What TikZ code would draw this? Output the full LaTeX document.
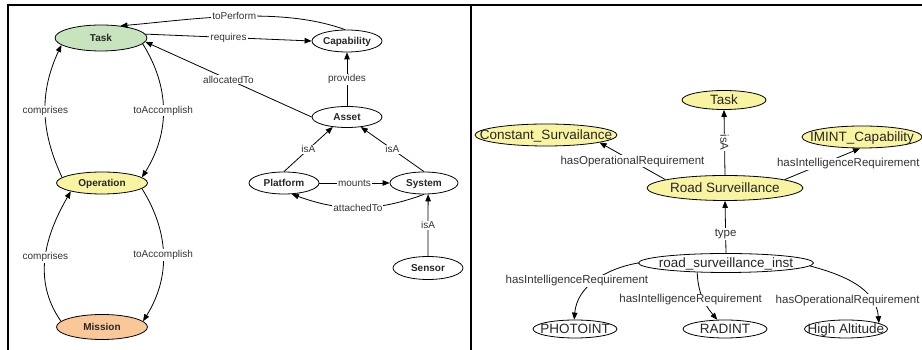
\documentclass[tikz,border=0pt]{standalone}
\usepackage{fontspec}
\setmainfont{Liberation Sans}
\usepackage{mathtools}
\usetikzlibrary{
		positioning,
		arrows.meta,
		shapes.geometric
	}
\definecolor{taskgreen}{HTML}{C8E4BE}
\definecolor{opyellow}{HTML}{F8F4A2}
\definecolor{misorange}{HTML}{FAC898}
\tikzset{
		>={Triangle[length=7pt,width=5.5pt]},
		concept/.style 2 args={ellipse, draw, line width=.8pt, inner sep=0pt, minimum width=#1, minimum height=#2, text=black!85},
		cls/.style={concept={70pt}{22pt}, font=\bfseries\fontsize{10}{12}\selectfont, text height=7.2pt, text depth=0pt},
		indiv/.style={concept={84pt}{19pt}, font=\fontsize{13.5}{15}\selectfont, text height=9.7pt, text depth=0pt},
		rel/.style={fill=white, inner sep=1pt, text=black!80, font=\fontsize{10}{12}\selectfont},
		rrel/.style={rel, font=\fontsize{11.5}{13}\selectfont},
		link/.style={->, line width=.8pt}
	}

\begin{document}
\begin{tikzpicture}[x=1pt, y=1pt] % one unit = one point, origin bottom left
		\useasboundingbox (0,0) rectangle (922,350);
		\clip (0,0) rectangle (922,350);
		\draw[line width=2pt] (8,0) |- (922,345) (471,0) -- (471,345); % panel frame

		% ontology classes
		\node[cls, fill=taskgreen, minimum width=92pt, minimum height=26pt] (tsk) at (101,312) {\clap{Task}};
		\node[cls] (cap) at (347,309) {\clap{Capability}};
		\node[cls, minimum height=21pt] (asset) at (347,233) {\clap{Asset}};
		\node[cls] (plat) at (284,167) {\clap{Platform}};
		\node[cls, minimum width=68pt] (sys) at (424,167) {\clap{System}};
		\node[cls, minimum height=23pt] (sens) at (428,82) {\clap{Sensor}};
		\node[cls, fill=opyellow, minimum width=91pt] (oper) at (102,167) {\clap{Operation}};
		\node[cls, fill=misorange, minimum width=91pt, minimum height=25pt] (miss) at (102,23) {\clap{Mission}};

		\draw[link] (cap.100) to[out=160,in=5,looseness=.8] node[rel]{toPerform} (tsk.32);
		\draw[link] (tsk.5) -- node[rel]{requires} (cap.west);
		\draw[link] (asset.west) -- node[rel]{allocatedTo} (tsk.-5);
		\draw[link] (asset.north) -- node[rel]{provides} (cap.south);
		\draw[link] (plat.north) -- node[rel]{isA} (asset.215);
		\draw[link] (sys.north) -- node[rel]{isA} (asset.-36);
		\draw[link] (plat.east) -- node[rel]{mounts} (sys.west);
		\draw[link] (sys.south) to[out=200,in=-20] node[rel]{attachedTo} (plat.-55);
		\draw[link] (sens.north) -- node[rel]{isA} (sys.-70);
		\draw[link] (oper.172) to[out=115,in=-115] node[rel]{comprises} (tsk.190);
		\draw[link] (tsk.-8) to[out=-58,in=58] node[rel]{toAccomplish} (oper.8);
		\draw[link] (miss.172) to[out=125,in=-120] node[rel]{comprises} (oper.195);
		\draw[link] (oper.-8) to[out=-58,in=58] node[rel]{toAccomplish} (miss.8);

		% instance level
		\node[indiv, fill=opyellow] (rtask) at (724,250) {\clap{Task}};
		\node[indiv, fill=opyellow, minimum width=142pt, minimum height=22pt] (const) at (546,215) {\clap{Constant\_Survailance}};
		\node[indiv, fill=opyellow, minimum width=120pt, minimum height=22pt] (imint) at (862,213) {\clap{IMINT\_Capability}};
		\node[indiv, fill=opyellow, minimum width=156pt, minimum height=25pt] (road) at (725,162) {\clap{Road Surveillance}};
		\node[indiv, minimum width=175pt] (rsi) at (726,87) {\clap{road\_surveillance\_inst}};
		\node[indiv, minimum height=18pt] (photo) at (575,21) {\clap{PHOTOINT}};
		\node[indiv, minimum height=18pt] (radint) at (725,21) {\clap{RADINT}};
		\node[indiv, minimum width=83pt, minimum height=18pt] (alt) at (846,21) {\clap{High Altitude}};

		\draw[link] (road.north) -- node[rrel, sloped]{isA} (rtask.south);
		\draw[link] (road.172) -- node[rrel]{hasOperationalRequirement} (const.-8);
		\draw[link] (road.8) -- node[rrel, xshift=26pt]{hasIntelligenceRequirement} (imint.-100);
		\draw[link] (rsi.north) -- node[rrel, pos=.37]{type} (road.south);
		\draw[link] (rsi.west) to[out=190,in=85] node[rrel, xshift=-18pt]{hasIntelligenceRequirement} (photo.95);
		\draw[link] (rsi.198) to[out=-88,in=130] node[rrel, pos=.55, xshift=-13pt]{hasIntelligenceRequirement} (radint.130);
		\draw[link] (rsi.-2) to[out=-15,in=95] node[rrel, pos=.75, xshift=-24pt]{hasOperationalRequirement} (alt.10);
	\end{tikzpicture}
\end{document}
